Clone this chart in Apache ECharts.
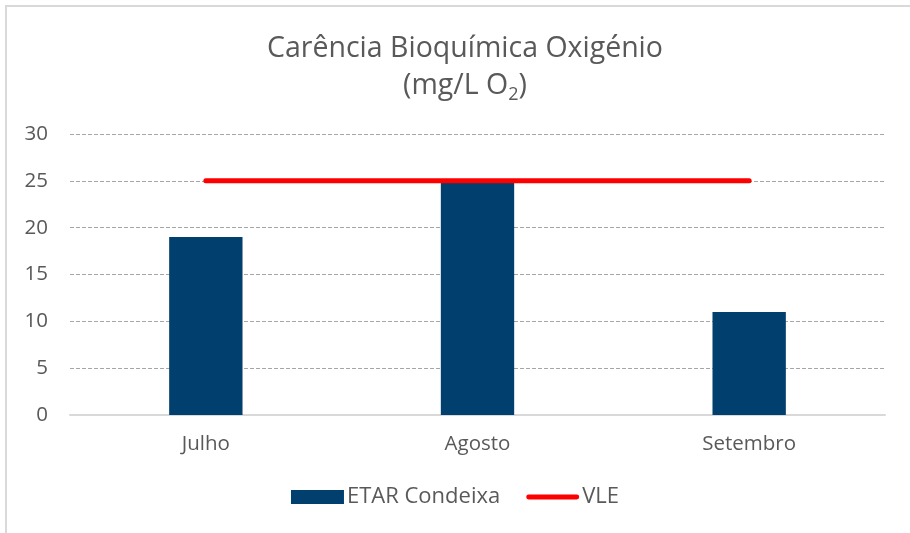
<!DOCTYPE html>
<html>
<head>
<meta charset="utf-8">
<script src="https://cdn.jsdelivr.net/npm/echarts@6/dist/echarts.min.js"></script>
<style>
html, body { margin: 0; padding: 0; background: #fff; }
#chart { width: 910px; height: 533px; }
</style>
</head>
<body>
<div id="chart"></div>
<script>
// dados
var meses = ['Julho', 'Agosto', 'Setembro'];
var etarCondeixa = [19, 25, 11];
var vle = [25, 25, 25];
var yTicks = [0, 5, 10, 15, 20, 25, 30];

var fonte = '"Open Sans", Lato, sans-serif';
var cinza = '#595959';

var chart = echarts.init(document.getElementById('chart'));
chart.setOption({
	animation: false,
	backgroundColor: '#fff',
	graphic: [{
		type: 'rect',
		shape: { x: 6, y: 6, width: 920, height: 540 },
		style: { fill: 'none', stroke: '#d9d9d9', lineWidth: 2 },
		silent: true
	}],
	title: {
		text: 'Carência Bioquímica Oxigénio\n(mg/L O{sub|2})',
		left: 460,
		textAlign: 'center',
		top: 25,
		textStyle: {
			fontFamily: fonte,
			fontSize: 28.5,
			fontWeight: 'normal',
			color: cinza,
			lineHeight: 37,
			rich: {
				sub: { fontFamily: fonte, fontSize: 18, color: cinza, verticalAlign: 'bottom', padding: [14, 0, 0, 0] }
			}
		}
	},
	legend: {
		bottom: 20,
		left: 'center',
		itemGap: 26,
		itemWidth: 53,
		itemHeight: 14,
		textStyle: { fontFamily: fonte, fontSize: 22, color: cinza, padding: [0, 0, 0, -2] },
		data: [
			{ name: 'ETAR Condeixa', icon: 'rect' },
			{ name: 'VLE', icon: 'path://M2.5,0 H52.5 A2.5,2.5 0 0 1 52.5,5 H2.5 A2.5,2.5 0 0 1 2.5,0 Z', itemStyle: { color: '#ff0000' } }
		]
	},
	grid: { left: 70, right: 25, top: 134, bottom: 118, containLabel: false },
	xAxis: {
		type: 'category',
		data: meses,
		axisTick: { show: false },
		axisLine: { lineStyle: { color: '#d9d9d9', width: 2 } },
		axisLabel: { fontFamily: fonte, fontSize: 20.5, color: cinza, margin: 19 }
	},
	yAxis: {
		type: 'value',
		min: yTicks[0],
		max: yTicks[yTicks.length - 1],
		interval: 5,
		axisLine: { show: false },
		axisTick: { show: false },
		axisLabel: { fontFamily: fonte, fontSize: 20.5, color: cinza, margin: 22 },
		splitLine: { lineStyle: { color: '#a6a6a6', type: [4, 2], width: 1 } }
	},
	series: [{
		name: 'ETAR Condeixa',
		type: 'bar',
		data: etarCondeixa,
		barWidth: '27%',
		itemStyle: { color: '#003f6e' }
	}, {
		name: 'VLE',
		type: 'line',
		data: vle,
		symbol: 'none',
		lineStyle: { color: '#ff0000', width: 5, cap: 'round' },
		itemStyle: { color: '#ff0000' }
	}]
});
</script>
</body>
</html>
